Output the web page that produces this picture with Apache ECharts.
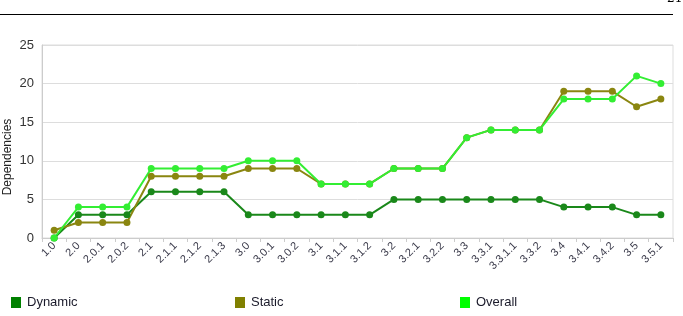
<!DOCTYPE html>
<html>
<head>
<meta charset="utf-8">
<script src="https://cdn.jsdelivr.net/npm/echarts@6/dist/echarts.min.js"></script>
<style>html,body{margin:0;padding:0;background:#fff;}#c{width:683px;height:316px;}</style>
</head>
<body>
<div id="c"></div>
<script>
const categories = ['1.0','2.0','2.0.1','2.0.2','2.1','2.1.1','2.1.2','2.1.3','3.0','3.0.1','3.0.2','3.1','3.1.1','3.1.2','3.2','3.2.1','3.2.2','3.3','3.3.1','3.3.1.1','3.3.2','3.4','3.4.1','3.4.2','3.5','3.5.1'];
const dynamicValues = [0,3,3,3,6,6,6,6,3,3,3,3,3,3,5,5,5,5,5,5,5,4,4,4,3,3];
const staticValues  = [1,2,2,2,8,8,8,8,9,9,9,7,7,7,9,9,9,13,14,14,14,19,19,19,17,18];
const overallValues = [0,4,4,4,9,9,9,9,10,10,10,7,7,7,9,9,9,13,14,14,14,18,18,18,21,20];
const yTicks = [0,5,10,15,20,25];

const chart = echarts.init(document.getElementById('c'), null, {renderer:'canvas'});
const font = 'Liberation Sans, Arial, sans-serif';
function mkSeries(name, data, color){
  return {name, type:'line', data, symbol:'circle', symbolSize:7, showSymbol:true,
    lineStyle:{color, width:2}, itemStyle:{color}, animation:false};
}
function mkLegend(name, left, color){
  return {data:[{name, itemStyle:{color}}], left, top:296, padding:0, icon:'rect', itemWidth:10, itemHeight:11, itemGap:6,
    textStyle:{fontFamily:font, fontSize:13, color:'#1a1a2a', padding:[0,0,0,1]}, selectedMode:false};
}
chart.setOption({
  animation:false,
  color:['#008000','#808000','#00ff00'],
  grid:{left:42, right:10, top:45, bottom:78, show:true, borderColor:'#ddd', borderWidth:1, backgroundColor:'transparent'},
  legend:[mkLegend('Dynamic',11,'#008000'), mkLegend('Static',235,'#808000'), mkLegend('Overall',460,'#00ff00')],
  xAxis:{type:'category', data:categories, boundaryGap:true,
    axisLine:{show:true, lineStyle:{color:'#ccc'}},
    axisTick:{show:true, alignWithLabel:false, length:4, lineStyle:{color:'#ccc'}},
    axisLabel:{rotate:45, interval:0, fontFamily:font, fontSize:11, color:'#3a3a4a', margin:6}},
  yAxis:{type:'value', min:yTicks[0], max:yTicks[yTicks.length-1], interval:5,
    axisLine:{show:true, lineStyle:{color:'#ccc'}},
    axisTick:{show:false},
    splitLine:{lineStyle:{color:'#ddd', width:1}},
    axisLabel:{fontFamily:font, fontSize:13, color:'#333', margin:8}},
  graphic:[
    {type:'line', shape:{x1:0, y1:14.5, x2:673, y2:14.5}, style:{stroke:'#000', lineWidth:1.2}},
    {type:'text', x:667, y:-7, style:{text:'21', font:'12px DejaVu Serif, serif', fill:'#000'}},
    {type:'text', x:8, y:157, rotation:Math.PI/2, style:{text:'Dependencies', font:'12px Liberation Sans, Arial, sans-serif', fill:'#222', align:'center', verticalAlign:'middle'}}
  ],
  series:[
    mkSeries('Dynamic', dynamicValues, '#1a881a'),
    mkSeries('Static', staticValues, '#8a8610'),
    mkSeries('Overall', overallValues, '#33ee33')
  ]
});
</script>
</body>
</html>
